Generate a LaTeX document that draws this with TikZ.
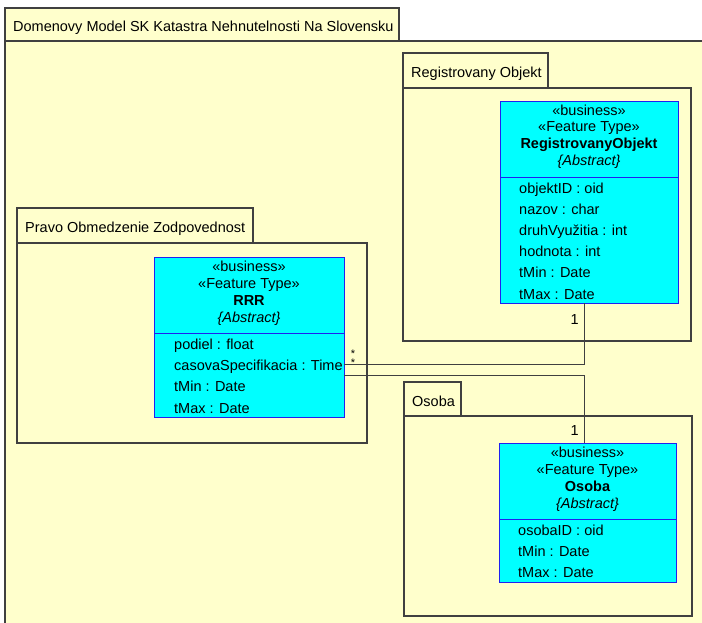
\documentclass[tikz,border=0pt]{standalone}
\usepackage{fontspec}
\setmainfont{Liberation Sans}
\definecolor{pkgfill}{HTML}{FFFFCC}
\definecolor{pkgline}{HTML}{404040}
\definecolor{clsfill}{HTML}{00FFFF}
\definecolor{clsline}{HTML}{2020F0}
\tikzset{
  pkgbox/.style={draw=pkgline, fill=pkgfill, line width=1.1pt, anchor=north west, inner sep=0pt, outer sep=0pt},
  clsbox/.style={draw=clsline, fill=clsfill, line width=0.9pt, anchor=north west, inner sep=0pt, outer sep=0pt},
  hdr/.style={anchor=base, inner sep=0pt, font=\fontsize{14.5}{17}\selectfont},
  attr/.style={anchor=base west, inner sep=0pt, font=\fontsize{14.5}{17}\selectfont},
  pkglabel/.style={anchor=base west, inner sep=0pt, font=\fontsize{14.5}{17}\selectfont},
  mult/.style={anchor=base, inner sep=0pt, font=\fontsize{11}{13}\selectfont},
  conn/.style={draw=pkgline, line width=0.9pt}
}
\begin{document}
\begin{tikzpicture}[x=1pt,y=-1pt]
\useasboundingbox (0,0) rectangle (702,622);
\clip (0,0) rectangle (702,622);
\fill[white] (0,0) rectangle (702,622);
% outer package
\node[pkgbox, minimum width=394pt, minimum height=33pt] (outertab) at (5,8) {};
\node[pkgbox, minimum width=720pt, minimum height=600pt] (outerbody) at (5,41) {};
\node[pkglabel] (outerlbl) at (13,31.5) {Domenovy Model SK Katastra Nehnutelnosti Na Slovensku};
% Registrovany Objekt package
\node[pkgbox, minimum width=145pt, minimum height=35pt] (regtab) at (403,53) {};
\node[pkgbox, minimum width=288pt, minimum height=253pt] (regbody) at (403,88) {};
\node[pkglabel] (reglbl) at (411,77.5) {Registrovany Objekt};
% Pravo package
\node[pkgbox, minimum width=236pt, minimum height=35pt] (pravotab) at (17,208) {};
\node[pkgbox, minimum width=350pt, minimum height=200pt] (pravobody) at (17,243) {};
\node[pkglabel] (pravolbl) at (25,232.5) {Pravo Obmedzenie Zodpovednost};
% Osoba package
\node[pkgbox, minimum width=57pt, minimum height=34pt] (osotab) at (404,382) {};
\node[pkgbox, minimum width=288pt, minimum height=200pt] (osobody) at (404,416) {};
\node[pkglabel] (osolbl) at (412,406) {Osoba};
% class RegistrovanyObjekt
\node[clsbox, minimum width=178pt, minimum height=202pt] (reg) at (500,101) {};
\draw[draw=clsline, line width=0.9pt] (reg.west |- 0,177) -- ([xshift=1pt]reg.east |- 0,177);
\node[hdr] (reg1) at (589,115) {«business»};
\node[hdr] (reg2) at (589,131.9) {«Feature Type»};
\node[hdr] (reg3) at (589,148.8) {\bfseries RegistrovanyObjekt};
\node[hdr] (reg4) at (589,165.7) {\itshape\{Abstract\}};
\node[attr] (rega1) at (519,193) {objektID : oid};
\node[attr] (rega2) at (519,214.2) {nazov : char};
\node[attr] (rega3) at (519,235.4) {druhVyužitia : int};
\node[attr] (rega4) at (519,256.6) {hodnota : int};
\node[attr] (rega5) at (519,277.8) {tMin : Date};
\node[attr] (rega6) at (519,299) {tMax : Date};
% class RRR
\node[clsbox, minimum width=190pt, minimum height=160pt] (rrr) at (154,257) {};
\draw[draw=clsline, line width=0.9pt] (rrr.west |- 0,333) -- ([xshift=1pt]rrr.east |- 0,333);
\node[hdr] (rrr1) at (249,271.5) {«business»};
\node[hdr] (rrr2) at (249,288.4) {«Feature Type»};
\node[hdr] (rrr3) at (249,305.3) {\bfseries RRR};
\node[hdr] (rrr4) at (249,322.2) {\itshape\{Abstract\}};
\node[attr] (rrra1) at (174,349.5) {podiel : float};
\node[attr] (rrra2) at (174,370.7) {casovaSpecifikacia : Time};
\node[attr] (rrra3) at (174,391.9) {tMin : Date};
\node[attr] (rrra4) at (174,413.1) {tMax : Date};
% class Osoba
\node[clsbox, minimum width=177pt, minimum height=139pt] (oso) at (499,443) {};
\draw[draw=clsline, line width=0.9pt] (oso.west |- 0,519) -- ([xshift=1pt]oso.east |- 0,519);
\node[hdr] (oso1) at (587.5,457.5) {«business»};
\node[hdr] (oso2) at (587.5,474.4) {«Feature Type»};
\node[hdr] (oso3) at (587.5,491.3) {\bfseries Osoba};
\node[hdr] (oso4) at (587.5,508.2) {\itshape\{Abstract\}};
\node[attr] (osoa1) at (518,535.5) {osobaID : oid};
\node[attr] (osoa2) at (518,556.7) {tMin : Date};
\node[attr] (osoa3) at (518,577.9) {tMax : Date};
% connectors
\draw[conn] (rrr.east |- 0,364) -| ([xshift=-5pt]reg.south);
\draw[conn] (rrr.east |- 0,375) -| ([xshift=-3.5pt]oso.north);
% multiplicities
\node[mult] (m1) at (353,357.3) {*};
\node[mult] (m2) at (353,366.3) {*};
\node[anchor=base east, inner sep=0pt, font=\fontsize{14.5}{17}\selectfont] (one1) at (579,324) {1};
\node[anchor=base east, inner sep=0pt, font=\fontsize{14.5}{17}\selectfont] (one2) at (579,435) {1};
\end{tikzpicture}
\end{document}
